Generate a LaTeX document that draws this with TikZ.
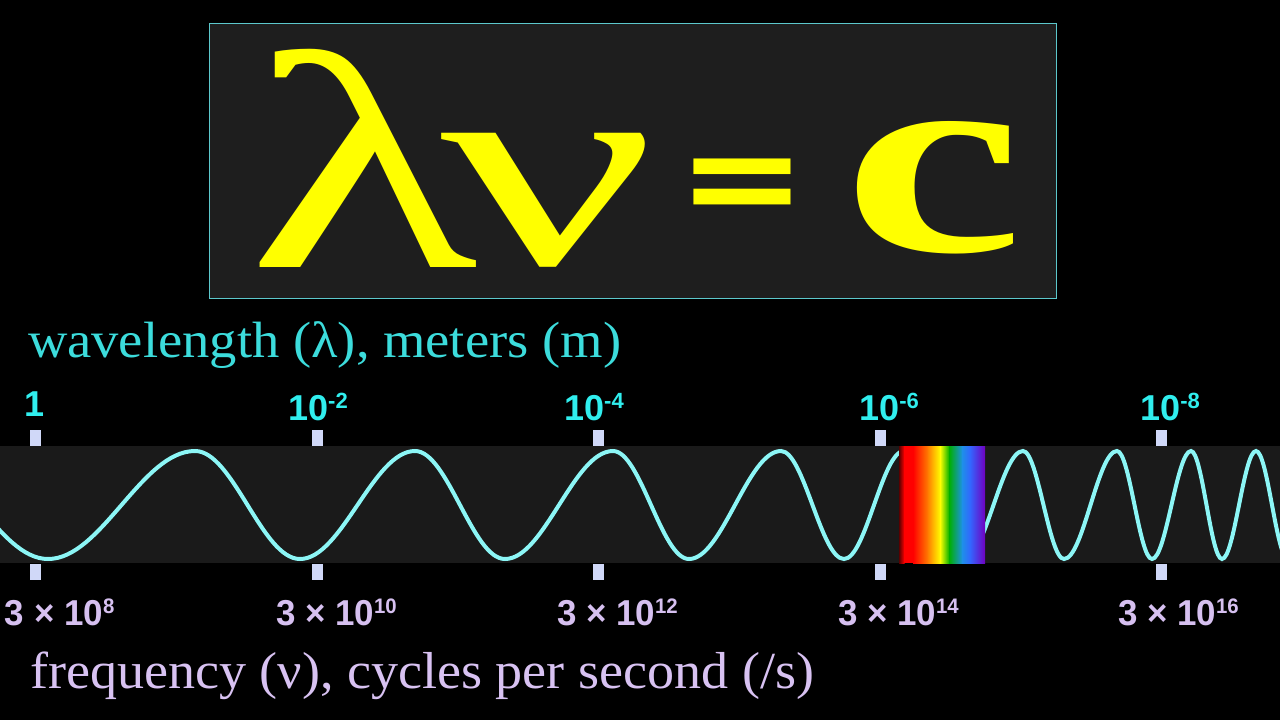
\documentclass[tikz,border=0pt]{standalone}
\usepackage{fontspec}
\usepackage{graphicx}
\setmainfont{Liberation Serif}
\newfontfamily\numfont{Liberation Sans}
\newfontfamily\eqfont{DejaVu Sans}
\definecolor{boxfill}{HTML}{1E1E1E}
\definecolor{bandfill}{HTML}{1A1A1A}
\definecolor{boxline}{HTML}{5CC8CC}
\definecolor{eqyellow}{HTML}{FFFF00}
\definecolor{wlcyan}{HTML}{3CDCDC}
\definecolor{numcyan}{HTML}{30EEEE}
\definecolor{lav}{HTML}{D8C2F2}
\definecolor{numlav}{HTML}{D6C0F0}
\definecolor{tickcol}{HTML}{D0D8F8}
\definecolor{wavecol}{HTML}{8CF6F6}
\definecolor{rbred}{HTML}{FF0000}
\definecolor{rbdark}{HTML}{5A0000}
\definecolor{rborange}{HTML}{FF8000}
\definecolor{rbyellow}{HTML}{FFFF00}
\definecolor{rbgreen}{HTML}{00B000}
\definecolor{rbteal}{HTML}{1E90E8}
\definecolor{rbblue}{HTML}{3366FF}
\definecolor{rbviolet}{HTML}{7000C0}
\newcommand{\nodepth}[1]{\raisebox{0pt}[\height][0pt]{#1}}
\newcommand{\wlab}[2]{{\numfont\bfseries\fontsize{36}{36}\selectfont #1\raisebox{12pt}{\fontsize{22}{22}\selectfont #2}}}
\newcommand{\flab}[1]{\scalebox{0.97}[1]{\numfont\bfseries\fontsize{36}{36}\selectfont 3 × 10\raisebox{12pt}{\fontsize{21}{21}\selectfont #1}}}
\tikzset{
  plain/.style={inner sep=0pt, outer sep=0pt},
  eqtext/.style={plain, text=eqyellow},
  tickmark/.style={plain, fill=tickcol, minimum width=11pt, minimum height=16pt},
  toplab/.style={plain, text=numcyan, anchor=base},
  botlab/.style={plain, text=numlav, anchor=base west},
}
\begin{document}
\begin{tikzpicture}[x=1pt,y=-1pt]
\useasboundingbox (0,0) rectangle (1280,720);
\fill[black] (0,0) rectangle (1280,720);
% equation box
\draw[fill=boxfill, draw=boxline, line width=1pt] (209,23) rectangle (1056,298);
\node[eqtext, anchor=base west] (lamnu) at (247,267) {\nodepth{\makebox[193pt][l]{\scalebox{1.54}[1]{\fontsize{310}{310}\selectfont λ}}\raisebox{3pt}{\scalebox{1.67}[1]{\fontsize{286}{286}\selectfont ν}}}};
\node[eqtext, anchor=base west] (eq) at (677,224) {\nodepth{\scalebox{1.14}[1]{\eqfont\bfseries\fontsize{136}{136}\selectfont =}}};
\node[eqtext, anchor=base west] (cc) at (843,251) {\nodepth{\scalebox{1.47}[1]{\fontsize{276}{276}\selectfont\bfseries c}}};
% axis titles
\node[plain, text=wlcyan, anchor=base west] (wltitle) at (28,357) {\scalebox{1.07}[1]{\fontsize{51}{51}\selectfont wavelength (λ), meters (m)}};
\node[plain, text=lav, anchor=base west] (fqtitle) at (30,688) {\scalebox{1.04}[1]{\fontsize{52}{52}\selectfont frequency (ν), cycles per second (/s)}};
% band
\fill[bandfill] (0,446) rectangle (1280,563);
% wave
\begin{scope}
\clip (0,446) rectangle (1280,563);
\draw[wavecol, line width=4pt]
 (-22,505) sin (48,559) cos (121.5,505) sin (195,451) cos (247.5,505) sin (300,559)
 cos (357.5,505) sin (415,451) cos (460,505) sin (505,559) cos (559,505) sin (613,451)
 cos (651,505) sin (689,559) cos (735,505) sin (781,451) cos (812.5,505) sin (844,559)
 cos (874,505) sin (904,451) cos (934,505) sin (964,559) cos (993.5,505) sin (1023,451)
 cos (1043.5,505) sin (1064,559) cos (1090.5,505) sin (1117,451) cos (1134.5,505) sin (1152,559)
 cos (1171.5,505) sin (1191,451) cos (1206.5,505) sin (1222,559) cos (1239,505) sin (1256,451)
 cos (1272,505) sin (1288,559);
\end{scope}
% rainbow
\shade[left color=rbdark, right color=rbred] (899,446) rectangle (904.5,563);
\fill[rbred] (904,446) rectangle (913.5,563);
\shade[left color=rbred, right color=rborange] (913,446) rectangle (928.5,563);
\shade[left color=rborange, right color=rbyellow] (928,446) rectangle (940.5,563);
\shade[left color=rbyellow, right color=rbgreen] (940,446) rectangle (949.5,563);
\shade[left color=rbgreen, right color=rbteal] (949,446) rectangle (962.5,563);
\shade[left color=rbteal, right color=rbblue] (962,446) rectangle (970.5,563);
\shade[left color=rbblue, right color=rbviolet] (970,446) rectangle (985,563);
% ticks
\foreach \i/\x in {1/35,2/317,3/598,4/880,5/1161}{
  \node[tickmark] (tt\i) at (\x,438) {};
  \node[tickmark] (tb\i) at (\x,572) {};
}
% wavelength labels
\node[toplab] (w1) at (35,416) {\wlab{1}{}};
\node[toplab] (w2) at (318,420) {\wlab{10}{-2}};
\node[toplab] (w3) at (594,420) {\wlab{10}{-4}};
\node[toplab] (w4) at (889,420) {\wlab{10}{-6}};
\node[toplab] (w5) at (1170,420) {\wlab{10}{-8}};
% frequency labels
\node[botlab] (f1) at (5,625) {\flab{8}};
\node[botlab] (f2) at (276,625) {\flab{10}};
\node[botlab] (f3) at (557,625) {\flab{12}};
\node[botlab] (f4) at (838,625) {\flab{14}};
\node[botlab] (f5) at (1118,625) {\flab{16}};
\end{tikzpicture}
\end{document}
